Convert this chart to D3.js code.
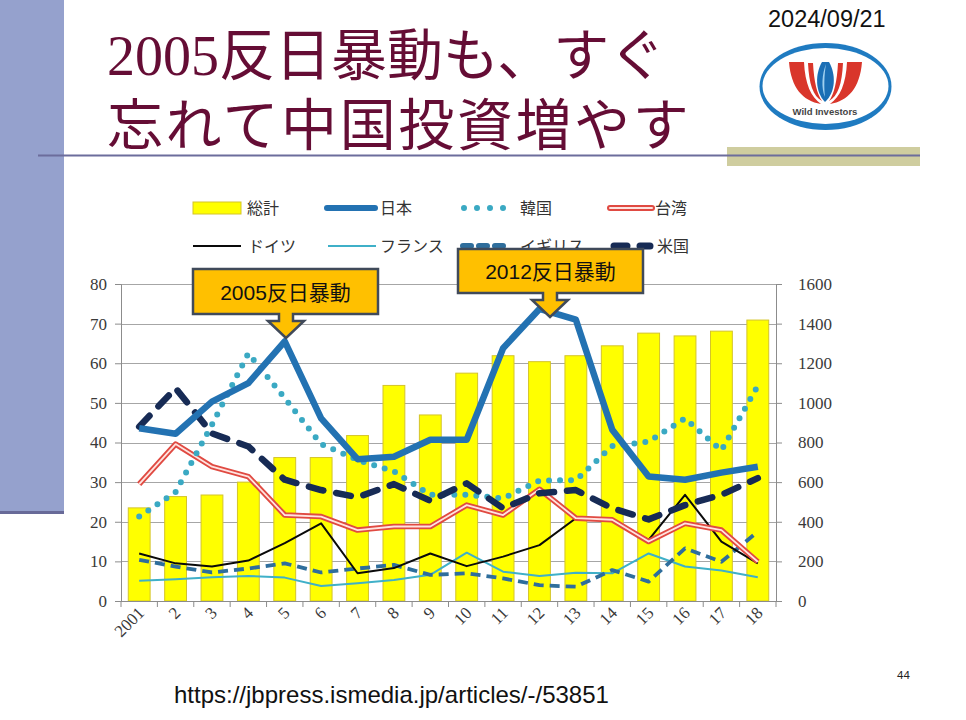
<!DOCTYPE html>
<html><head><meta charset="utf-8">
<script src="https://cdn.jsdelivr.net/npm/d3@7"></script>
<style>
html,body{margin:0;padding:0;background:#fff;}
svg{display:block;}
</style></head>
<body>
<svg id="c" width="966" height="720"></svg>
<script>
// ---------- DATA ----------
const years = ["2001","2","3","4","5","6","7","8","9","10","11","12","13","14","15","16","17","18"];
const total  = [470,527,535,600,724,724,835,1088,939,1150,1238,1208,1238,1288,1352,1338,1362,1418];
const japan  = [43.6,42.2,50.3,55.0,65.5,46.1,35.8,36.4,40.7,40.7,63.8,73.7,71.0,43.2,31.4,30.6,32.4,33.9];
const korea  = [21.3,27.5,44.5,62.5,51.2,39.6,35.6,32.7,26.8,26.8,25.9,30.4,30.5,39.1,40.2,46.1,38.0,54.3];
const taiwan = [29.5,39.6,33.9,31.4,21.7,21.3,17.9,18.8,18.8,24.2,21.7,28.2,20.9,20.5,15.0,19.6,17.9,9.9];
const germany= [12.0,9.5,8.7,10.2,14.6,19.6,7.0,8.3,12.0,8.8,11.2,14.1,20.9,20.5,15.4,26.8,15.0,9.5];
const france = [5.1,5.5,6.0,6.3,5.9,3.8,4.5,5.3,6.6,12.2,7.4,6.3,7.1,7.0,12.0,8.7,7.7,6.0];
const uk     = [10.4,8.7,7.2,8.2,9.5,7.2,8.2,9.1,6.6,7.0,5.7,4.0,3.6,7.8,4.9,13.3,9.9,17.5];
const us     = [44.0,53.7,42.3,39.0,30.6,28.0,26.2,29.5,25.3,29.7,23.4,27.2,28.0,23.4,20.6,24.2,26.8,31.0];
const leftTicks  = [0,10,20,30,40,50,60,70,80];
const rightTicks = [0,200,400,600,800,1000,1200,1400,1600];
const legendNames = ["総計","日本","韓国","台湾","ドイツ","フランス","イギリス","米国"];
const callouts = [{label:"2005反日暴動", year:"5"},{label:"2012反日暴動", year:"12"}];

// ---------- SETUP ----------
const svg = d3.select("#c");
const serif = "Liberation Serif, Times New Roman, serif";
const sans = "Liberation Sans, Arial, Noto Sans CJK JP, sans-serif";
const jp = "Noto Sans CJK JP, Liberation Sans, sans-serif";

// slide decoration
svg.append("rect").attr("x",0).attr("y",0).attr("width",64).attr("height",513).attr("fill","#95a1cd");
svg.append("rect").attr("x",0).attr("y",511).attr("width",64).attr("height",3).attr("fill","#686a98");
svg.append("rect").attr("x",727).attr("y",147).attr("width",193).attr("height",19).attr("fill","#cfcd9f");
svg.append("line").attr("x1",38).attr("x2",920).attr("y1",155.5).attr("y2",155.5).attr("stroke","#6c6d9c").attr("stroke-width",2);

// title
const t1 = svg.append("text").attr("x",107).attr("y",75).attr("fill","#650d35").attr("font-size",56);
t1.append("tspan").style("font-family",serif).text("2005");
t1.append("tspan").style("font-family",jp).text("反日暴動も、すぐ");
svg.append("text").attr("x",107).attr("y",145).attr("fill","#650d35").attr("font-size",56)
  .attr("letter-spacing",2.6).style("font-family",jp).text("忘れて中国投資増やす");

// date
svg.append("text").attr("x",768).attr("y",27).style("font-family",sans).attr("font-size",23.5).attr("fill","#111").text("2024/09/21");

// logo
const lg = svg.append("g");
lg.append("ellipse").attr("cx",825.5).attr("cy",86.5).attr("rx",66).attr("ry",43.5).attr("fill","#1f7bc1");
lg.append("ellipse").attr("cx",825.5).attr("cy",86).attr("rx",63).attr("ry",38).attr("fill","#fff");
lg.append("path").attr("d","M789,62 L804,62 C805,84 811,97 821,104 C803,101 791,88 789,62 Z").attr("fill","#d9362b");
lg.append("path").attr("d","M862,62 L847,62 C846,84 840,97 830,104 C848,101 860,88 862,62 Z").attr("fill","#d9362b");
lg.append("path").attr("d","M808,63 L813,63 C814,82 817,94 822,101 C813,96 809,84 808,63 Z").attr("fill","#d9362b");
lg.append("path").attr("d","M843,63 L838,63 C837,82 834,94 829,101 C838,96 842,84 843,63 Z").attr("fill","#d9362b");
lg.append("path").attr("d","M825,102 C815,92 815,74 822,62 L829,62 C836,74 836,92 825,102 Z").attr("fill","#1b6fb5");
lg.append("path").attr("d","M825,97 C821,88 822,74 826,64 C824,76 824,88 825,97 Z").attr("fill","#9fd0ef");
lg.append("text").attr("x",825).attr("y",115).attr("text-anchor","middle").style("font-family",sans)
  .attr("font-weight","bold").attr("font-size",9.5).attr("fill","#444").text("Wild Investors");

// ---------- CHART ----------
const x = d3.scaleBand().domain(years).range([121,776]).paddingInner(0.4).paddingOuter(0.2);
const yL = d3.scaleLinear().domain([0,80]).range([601,284]);
const yR = d3.scaleLinear().domain([0,1600]).range([601,284]);
const cx = d => x(d)+x.bandwidth()/2;

// gridlines
svg.append("g").selectAll("line").data(leftTicks.slice(1)).join("line")
  .attr("x1",121).attr("x2",776).attr("y1",d=>Math.round(yL(d))+0.5).attr("y2",d=>Math.round(yL(d))+0.5)
  .attr("stroke","#a6a6a6").attr("stroke-width",1);

// bars
svg.append("g").selectAll("rect").data(total).join("rect")
  .attr("x",(d,i)=>x(years[i])).attr("width",x.bandwidth())
  .attr("y",d=>yR(d)).attr("height",d=>yR(0)-yR(d))
  .attr("fill","#ffff00").attr("stroke","#d4c42a").attr("stroke-width",1);

function styleAxis(g){
  g.attr("font-family",serif).attr("font-size",17);
  g.select(".domain").attr("stroke","#8c8c8c");
  g.selectAll(".tick line").attr("stroke","#8c8c8c");
  g.selectAll("text").style("font-family",serif).style("font-size","17px").attr("fill","#3a3a3a");
}
// left axis
const axL = d3.axisLeft(yL).tickValues(leftTicks).tickSize(6).tickPadding(8).tickFormat(d3.format("d"));
const gL = svg.append("g").attr("transform","translate(121,0)").call(axL);
styleAxis(gL);

// right axis
const axR = d3.axisRight(yR).tickValues(rightTicks).tickSize(6).tickPadding(16).tickFormat(d3.format("d"));
const gR = svg.append("g").attr("transform","translate(776,0)").call(axR);
styleAxis(gR);

// bottom axis
const gB = svg.append("g");
gB.append("line").attr("x1",115).attr("x2",776).attr("y1",601.5).attr("y2",601.5).attr("stroke","#8c8c8c");
gB.selectAll("line.tk").data(d3.range(years.length+1)).join("line").attr("class","tk")
  .attr("x1",k=>121+k*x.step()).attr("x2",k=>121+k*x.step()).attr("y1",601).attr("y2",607)
  .attr("stroke","#8c8c8c");
gB.selectAll("text").data(years).join("text")
  .attr("transform",d=>`translate(${cx(d)+6},${614}) rotate(-45)`)
  .attr("text-anchor","end").style("font-family",serif).style("font-size","17px").attr("fill","#3a3a3a")
  .text(d=>d);

// lines
const line = d3.line().x((d,i)=>cx(years[i])).y(d=>yL(d));
const plot = svg.append("g").attr("fill","none").attr("stroke-linejoin","round");
plot.append("path").attr("d",line(france)).attr("stroke","#3fb0c8").attr("stroke-width",2);
plot.append("path").attr("d",line(uk)).attr("stroke","#2f6e9c").attr("stroke-width",3.8).attr("stroke-dasharray","10 6");
plot.append("path").attr("d",line(germany)).attr("stroke","#0a0a0a").attr("stroke-width",2);
plot.append("path").attr("d",line(taiwan)).attr("stroke","#e04a42").attr("stroke-width",5.5);
plot.append("path").attr("d",line(taiwan)).attr("stroke","#ffe4e0").attr("stroke-width",1.8);
plot.append("path").attr("d",line(korea)).attr("stroke","#3aa9c3").attr("stroke-width",6)
  .attr("stroke-linecap","round").attr("stroke-dasharray","0 11");
plot.append("path").attr("d",line(us)).attr("stroke","#172b55").attr("stroke-width",6.5)
  .attr("stroke-linecap","round").attr("stroke-dasharray","15 13");
plot.append("path").attr("d",line(japan)).attr("stroke","#2372b2").attr("stroke-width",6.5);

// legend
const lgd = svg.append("g").style("font-family",jp).attr("font-size",16).attr("fill","#333");
const legPos = [[193,208],[327,208],[460,208],[610,208],[193,246],[328,246],[460,246],[610,246]];
const txtOff = [54,53,60,45,55,52,60,47];
legPos.forEach((p,i)=>{
  const [lx,ly]=p;
  const w = i%4===3?42:48;
  if(i===0){
    lgd.append("rect").attr("x",lx).attr("y",ly-6).attr("width",48).attr("height",12).attr("fill","#ffff00").attr("stroke","#d4c42a");
  } else {
    const l = lgd.append("line").attr("x1",lx).attr("x2",lx+w).attr("y1",ly).attr("y2",ly).attr("fill","none");
    if(i===1) l.attr("stroke","#2372b2").attr("stroke-width",6).attr("stroke-linecap","round");
    if(i===2) l.attr("x1",lx+4).attr("stroke","#3aa9c3").attr("stroke-width",6).attr("stroke-linecap","round").attr("stroke-dasharray","0 13");
    if(i===3){ l.attr("stroke","#e04a42").attr("stroke-width",6).attr("stroke-linecap","round");
      lgd.append("line").attr("x1",lx).attr("x2",lx+w).attr("y1",ly).attr("y2",ly).attr("stroke","#ffe4e0").attr("stroke-width",2).attr("stroke-linecap","round"); }
    if(i===4) l.attr("stroke","#0a0a0a").attr("stroke-width",2);
    if(i===5) l.attr("stroke","#3fb0c8").attr("stroke-width",2);
    if(i===6) l.attr("x1",lx+3).attr("stroke","#2f6e9c").attr("stroke-width",6).attr("stroke-linecap","round").attr("stroke-dasharray","8 8");
    if(i===7) l.attr("x1",lx+4).attr("x2",lx+40).attr("stroke","#172b55").attr("stroke-width",7).attr("stroke-linecap","round").attr("stroke-dasharray","13 13");
  }
  lgd.append("text").attr("x",lx+txtOff[i]).attr("y",ly+6).text(legendNames[i]);
});

// callouts
const boxes = [{x0:193,x1:378,y0:269,y1:314,tipX:286},{x0:458,x1:643,y0:249,y1:293,tipX:550}];
callouts.forEach((c,i)=>{
  const b = boxes[i];
  const tipY = b.y1+24, nb = b.y1+7;
  const d = `M${b.x0},${b.y0} H${b.x1} V${b.y1} H${b.tipX+7} V${nb} H${b.tipX+18} L${b.tipX},${tipY} L${b.tipX-18},${nb} H${b.tipX-7} V${b.y1} H${b.x0} Z`;
  svg.append("path").attr("d",d).attr("fill","#ffc000").attr("stroke","#404a5a").attr("stroke-width",2.5).attr("stroke-linejoin","miter");
  svg.append("text").attr("x",(b.x0+b.x1)/2).attr("y",(b.y0+b.y1)/2+8).attr("text-anchor","middle")
    .style("font-family",sans).attr("font-size",21).attr("fill","#111").text(c.label);
});

// footer
svg.append("text").attr("x",174).attr("y",703).style("font-family",sans).attr("font-size",24).attr("fill","#111")
  .text("https://jbpress.ismedia.jp/articles/-/53851");
svg.append("text").attr("x",897).attr("y",679).style("font-family",sans).attr("font-size",11.5).attr("fill","#222").text("44");
</script>
</body></html>
